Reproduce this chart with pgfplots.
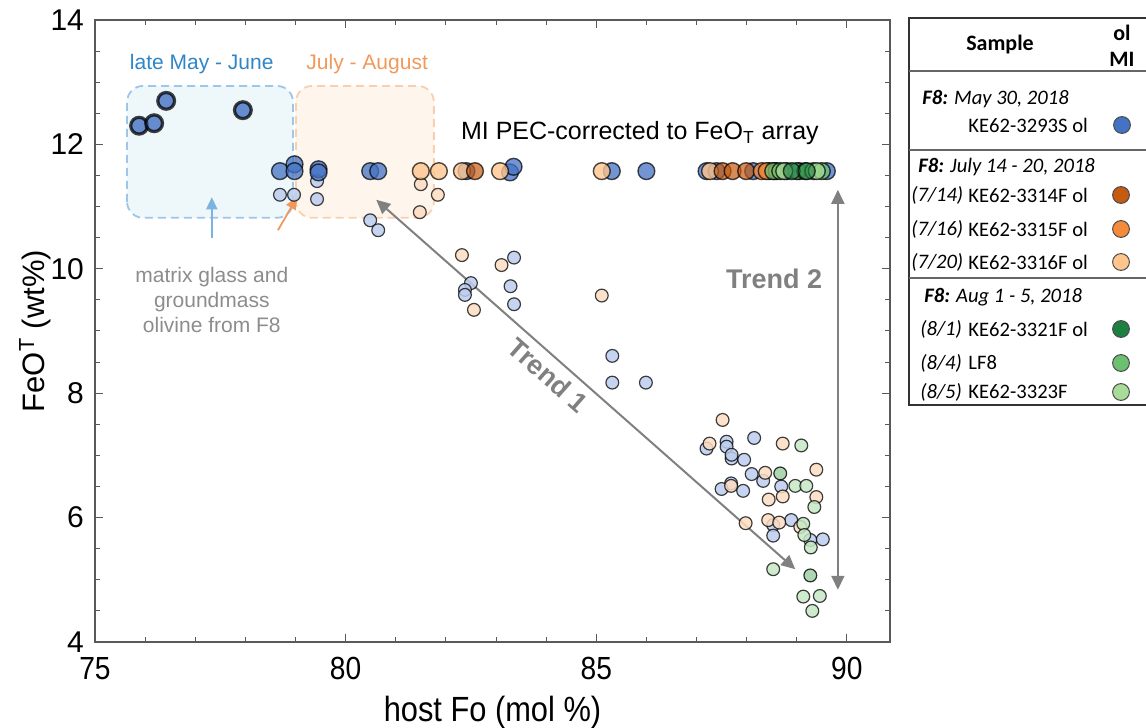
\documentclass[border=0pt]{standalone}
\usepackage{pgfplots}
\pgfplotsset{compat=1.18}
\usepackage{fontspec}
\setmainfont{Liberation Sans}
\newfontfamily\narrowfont[FakeStretch=0.88]{Liberation Sans}
\newfontfamily\calibri{Carlito}
\usetikzlibrary{arrows.meta}

\definecolor{miblue}{HTML}{4472C4}
\definecolor{darkor}{HTML}{C55A11}
\definecolor{midor}{HTML}{F58A3A}
\definecolor{lightor}{HTML}{FFC58D}
\definecolor{darkgr}{HTML}{1E8040}
\definecolor{midgr}{HTML}{6CC070}
\definecolor{lightgr}{HTML}{A8DC98}
\definecolor{glblue}{HTML}{BCCDEE}
\definecolor{glor}{HTML}{FCDCC2}
\definecolor{glgr}{HTML}{C6E8C4}
\definecolor{glgrd}{HTML}{9FD0A6}
\definecolor{boxblue}{HTML}{EEF7F9}
\definecolor{boxblueline}{HTML}{9DC6EA}
\definecolor{boxor}{HTML}{FEF5EC}
\definecolor{boxorline}{HTML}{F9CFAE}
\definecolor{txtblue}{HTML}{2E86C8}
\definecolor{txtor}{HTML}{F0995A}
\definecolor{trendgray}{HTML}{808080}
\definecolor{annogray}{HTML}{8C8C8C}

\begin{document}
\begin{tikzpicture}
\path[use as bounding box] (-47.5pt,-43pt) rectangle (525.5pt,321pt);
\begin{axis}[
  at={(0pt,0pt)}, anchor=south west,
  scale only axis, width=397.5pt, height=311pt,
  xmin=75, xmax=90.86, ymin=4, ymax=14,
  xtick={75,80,85,90}, ytick={4,6,8,10,12,14},
  minor x tick num=4, minor y tick num=3,
  tick align=inside,
  major tick length=4pt, minor tick length=2.5pt,
  axis line style={black!65, line width=0.6pt},
  every tick/.style={black!65, line width=0.5pt},
  /pgf/number format/assume math mode=true,
  xticklabel style={font=\narrowfont\fontsize{16}{18}\selectfont, yshift=-4pt},
  yticklabel style={font=\fontsize{15}{17}\selectfont, xshift=-2pt},
  xlabel={host Fo (mol \%)},
  xlabel style={font=\narrowfont\fontsize{17.5}{20}\selectfont, at={(axis description cs:0.5,-0.1125)}, anchor=center},
  ylabel={FeO\textsuperscript{T} (wt\%)},
  ylabel style={font=\fontsize{15.5}{18}\selectfont, at={(axis description cs:-0.0755,0.5)}, anchor=center, rotate=0},
  clip=false,
]
% shaded boxes
\draw[rounded corners=8pt, dash pattern=on 4pt off 2.5pt, line width=0.9pt, draw=boxblueline, fill=boxblue]
  (axis cs:75.64,10.82) rectangle (axis cs:78.95,12.94);
\draw[rounded corners=8pt, dash pattern=on 4pt off 2.5pt, line width=0.9pt, draw=boxorline, fill=boxor]
  (axis cs:79.01,10.82) rectangle (axis cs:81.76,12.94);

% matrix glass / groundmass olivine (light points)
\addplot[only marks, mark=*, mark size=3.2pt, mark options={fill=glblue, fill opacity=0.85, draw=black, draw opacity=0.75, line width=0.6pt}] coordinates {
(78.69,11.19) (78.97,11.19) (79.43,11.41) (79.43,11.12) (80.49,10.78) (80.65,10.62)
(83.36,10.18) (82.50,9.77) (82.38,9.66) (82.38,9.58) (83.29,9.72) (83.36,9.43)
(85.32,8.60) (85.32,8.17) (85.99,8.17)
(87.20,7.11) (87.60,7.22) (87.60,7.14) (88.15,7.28) (87.70,6.95) (87.70,7.01)
(87.95,6.93) (88.10,6.70) (88.33,6.59) (87.69,6.55) (87.50,6.46) (87.93,6.43)
(88.69,6.50) (88.53,5.88) (88.89,5.96) (88.53,5.71) (89.27,5.64) (89.52,5.65)
};
\addplot[only marks, mark=*, mark size=3.2pt, mark options={fill=glor, fill opacity=0.85, draw=black, draw opacity=0.75, line width=0.6pt}] coordinates {
(81.50,11.36) (81.84,11.19) (81.48,10.91) (82.32,10.22) (83.11,10.06) (82.56,9.34)
(85.11,9.57) (87.52,7.57) (87.26,7.19) (88.72,7.19) (88.37,6.72) (89.39,6.77)
(87.69,6.51) (88.44,6.29) (88.72,6.34) (89.39,6.33) (87.98,5.91) (88.43,5.96)
(88.65,5.92) (89.07,5.85)
};
\addplot[only marks, mark=*, mark size=3.2pt, mark options={fill=glgr, fill opacity=0.85, draw=black, draw opacity=0.75, line width=0.6pt}] coordinates {
(89.09,7.16) (88.97,6.51) (89.19,6.51) (89.35,6.17) (89.13,5.90)
(89.15,5.72) (89.28,5.52) (88.53,5.17) (89.13,4.73) (89.46,4.74) (89.31,4.50)
};
\addplot[only marks, mark=*, mark size=3.2pt, mark options={fill=glgrd, fill opacity=0.85, draw=black, draw opacity=0.8, line width=0.6pt}] coordinates {
(88.67,6.71) (89.27,5.07)
};

% MI points, PEC-corrected
\addplot[only marks, mark=*, mark size=4.2pt, mark options={fill=miblue, fill opacity=0.8, draw=black, draw opacity=0.75, line width=1.6pt}] coordinates {
(75.88,12.30) (76.18,12.34) (76.42,12.70) (77.95,12.55)
};
\addplot[only marks, mark=*, mark size=4.2pt, mark options={fill=miblue, fill opacity=0.75, draw=black, draw opacity=0.7, line width=0.7pt}] coordinates {
(78.69,11.57) (78.98,11.68) (78.98,11.57) (79.46,11.60) (79.46,11.55) (80.49,11.57)
(80.65,11.57) (82.41,11.57) (83.28,11.55) (83.35,11.64) (85.31,11.57) (86.00,11.57)
(87.20,11.57) (87.40,11.57) (88.13,11.57) (88.45,11.57) (88.80,11.57) (89.05,11.57) (89.60,11.57)
};
\addplot[only marks, mark=*, mark size=4.2pt, mark options={fill=lightor, fill opacity=0.8, draw=black, draw opacity=0.7, line width=0.7pt}] coordinates {
(81.50,11.57) (81.86,11.57) (82.32,11.57) (83.08,11.57) (85.11,11.57) (87.27,11.57)
};
\addplot[only marks, mark=*, mark size=4.2pt, mark options={fill=darkor, fill opacity=0.7, draw=black, draw opacity=0.7, line width=0.7pt}] coordinates {
(82.58,11.57) (87.52,11.57) (87.72,11.57) (87.99,11.57) (88.55,11.57)
};
\addplot[only marks, mark=*, mark size=4.2pt, mark options={fill=midor, fill opacity=0.75, draw=black, draw opacity=0.7, line width=0.7pt}] coordinates {
(88.30,11.57) (88.40,11.57) (88.60,11.57)
};
\addplot[only marks, mark=*, mark size=4.2pt, mark options={fill=midgr, fill opacity=0.75, draw=black, draw opacity=0.7, line width=0.7pt}] coordinates {
(88.53,11.57) (88.67,11.57) (89.00,11.57) (89.17,11.57) (89.33,11.57) (89.50,11.57)
};
\addplot[only marks, mark=*, mark size=4.2pt, mark options={fill=lightgr, fill opacity=0.75, draw=black, draw opacity=0.7, line width=0.7pt}] coordinates {
(88.75,11.57) (89.40,11.57)
};
\addplot[only marks, mark=*, mark size=4.2pt, mark options={fill=darkgr, fill opacity=0.6, draw=black, draw opacity=0.7, line width=0.7pt}] coordinates {
(88.90,11.57) (89.20,11.57)
};

% annotations
\node[font=\fontsize{10.5}{12}\selectfont, text=txtblue] at (axis cs:77.13,13.29) {late May - June};
\node[font=\fontsize{10.5}{12}\selectfont, text=txtor] at (axis cs:80.43,13.29) {July - August};
\node[font=\fontsize{12.5}{14}\selectfont] at (axis cs:85.87,12.18) {MI PEC-corrected to FeO\textsubscript{T} array};
\draw[-{Triangle[width=5.5pt,length=6pt]}, line width=0.9pt, color=boxblueline!70!txtblue] (axis cs:77.33,10.50) -- (axis cs:77.33,11.15);
\draw[-{Triangle[width=5.5pt,length=6pt]}, line width=0.9pt, color=txtor] (axis cs:78.65,10.62) -- (axis cs:79.03,11.15);
\node[font=\fontsize{10.5}{12.5}\selectfont, text=annogray, align=center] at (axis cs:77.33,9.50) {matrix glass and\\groundmass\\olivine from F8};
\draw[{Triangle[width=6.5pt,length=7pt]}-{Triangle[width=6.5pt,length=7pt]}, line width=1pt, color=trendgray] (axis cs:80.61,11.11) -- (axis cs:88.97,5.17);
\draw[{Triangle[width=6.5pt,length=7pt]}-{Triangle[width=6.5pt,length=7pt]}, line width=1pt, color=trendgray] (axis cs:89.82,11.27) -- (axis cs:89.82,4.84);
\node[font=\bfseries\fontsize{13.5}{15}\selectfont, text=trendgray, rotate=-41.4] at (axis cs:84.04,8.29) {Trend 1};
\node[font=\bfseries\fontsize{13.5}{15}\selectfont, text=trendgray] at (axis cs:88.55,9.84) {Trend 2};
\end{axis}

% legend table (pixel coordinates)
\begin{axis}[
  at={(406.5pt,118.5pt)}, anchor=south west,
  scale only axis, width=119.5pt, height=193.5pt,
  xmin=908, xmax=1147, ymin=18, ymax=405, y dir=reverse,
  hide axis, clip=false,
]
\draw[line width=0.9pt, black!80] (axis cs:1147,18) -- (axis cs:909,18) -- (axis cs:909,405) -- (axis cs:1147,405);
\draw[line width=0.6pt, black!60] (axis cs:909,71) -- (axis cs:1147,71);
\draw[line width=0.6pt, black!60] (axis cs:909,150) -- (axis cs:1147,150);
\draw[line width=0.6pt, black!60] (axis cs:909,278) -- (axis cs:1147,278);
\node[font=\calibri\bfseries\fontsize{11}{12}\selectfont] at (axis cs:1000,45) {Sample};
\node[font=\calibri\bfseries\fontsize{11}{12}\selectfont] at (axis cs:1122,33) {ol};
\node[font=\calibri\bfseries\fontsize{11}{12}\selectfont] at (axis cs:1122,59) {MI};
\node[font=\calibri\itshape\fontsize{10.3}{12}\selectfont, anchor=west, inner sep=0pt] at (axis cs:922,99) {\textbf{F8:} May 30, 2018};
\node[font=\calibri\fontsize{10.3}{12}\selectfont, anchor=west, inner sep=0pt] at (axis cs:968,125) {KE62-3293S ol};
\node[font=\calibri\itshape\fontsize{10.3}{12}\selectfont, anchor=west, inner sep=0pt] at (axis cs:918,167) {\textbf{F8:} July 14 - 20, 2018};
\node[font=\calibri\itshape\fontsize{10.3}{12}\selectfont, anchor=west, inner sep=0pt] at (axis cs:911,195) {(7/14)};
\node[font=\calibri\fontsize{10.3}{12}\selectfont, anchor=west, inner sep=0pt] at (axis cs:968,195) {KE62-3314F ol};
\node[font=\calibri\itshape\fontsize{10.3}{12}\selectfont, anchor=west, inner sep=0pt] at (axis cs:911,229) {(7/16)};
\node[font=\calibri\fontsize{10.3}{12}\selectfont, anchor=west, inner sep=0pt] at (axis cs:968,229) {KE62-3315F ol};
\node[font=\calibri\itshape\fontsize{10.3}{12}\selectfont, anchor=west, inner sep=0pt] at (axis cs:911,262) {(7/20)};
\node[font=\calibri\fontsize{10.3}{12}\selectfont, anchor=west, inner sep=0pt] at (axis cs:968,262) {KE62-3316F ol};
\node[font=\calibri\itshape\fontsize{10.3}{12}\selectfont, anchor=west, inner sep=0pt] at (axis cs:924,297) {\textbf{F8:} Aug 1 - 5, 2018};
\node[font=\calibri\itshape\fontsize{10.3}{12}\selectfont, anchor=west, inner sep=0pt] at (axis cs:920,329) {(8/1)};
\node[font=\calibri\fontsize{10.3}{12}\selectfont, anchor=west, inner sep=0pt] at (axis cs:968,329) {KE62-3321F ol};
\node[font=\calibri\itshape\fontsize{10.3}{12}\selectfont, anchor=west, inner sep=0pt] at (axis cs:920,363) {(8/4)};
\node[font=\calibri\fontsize{10.3}{12}\selectfont, anchor=west, inner sep=0pt] at (axis cs:968,363) {LF8};
\node[font=\calibri\itshape\fontsize{10.3}{12}\selectfont, anchor=west, inner sep=0pt] at (axis cs:920,392) {(8/5)};
\node[font=\calibri\fontsize{10.3}{12}\selectfont, anchor=west, inner sep=0pt] at (axis cs:968,392) {KE62-3323F};
\addplot[only marks, mark=*, mark size=4.2pt, mark options={fill=miblue, draw=black!70, line width=0.5pt}] coordinates {(1122,125)};
\addplot[only marks, mark=*, mark size=4.2pt, mark options={fill=darkor, draw=black!70, line width=0.5pt}] coordinates {(1121,195)};
\addplot[only marks, mark=*, mark size=4.2pt, mark options={fill=midor, draw=black!70, line width=0.5pt}] coordinates {(1121,229)};
\addplot[only marks, mark=*, mark size=4.2pt, mark options={fill=lightor, draw=black!70, line width=0.5pt}] coordinates {(1121,262)};
\addplot[only marks, mark=*, mark size=4.2pt, mark options={fill=darkgr, draw=black!70, line width=0.5pt}] coordinates {(1121,329)};
\addplot[only marks, mark=*, mark size=4.2pt, mark options={fill=midgr, draw=black!70, line width=0.5pt}] coordinates {(1121,363)};
\addplot[only marks, mark=*, mark size=4.2pt, mark options={fill=lightgr, draw=black!70, line width=0.5pt}] coordinates {(1121,392)};
\end{axis}
\end{tikzpicture}
\end{document}
